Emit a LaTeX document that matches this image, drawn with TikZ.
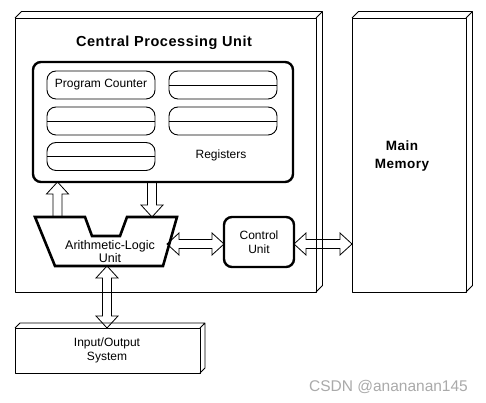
\documentclass[tikz,border=0pt]{standalone}
\usepackage{fontspec}
\setmainfont{Liberation Sans}
\usetikzlibrary{calc}
\tikzset{
  box/.style={draw=drawColor,line width=0.9pt,line join=round,inner sep=0pt,outer sep=0pt},
  regbox/.style={draw=drawColor,line width=2.4pt,rounded corners=8pt,inner sep=0pt,outer sep=0pt},
  cellbox/.style={draw=drawColor,line width=0.9pt,rounded corners=9pt,inner sep=0pt,outer sep=0pt,
    minimum width=108pt,minimum height=28pt},
  lbl/.style={text=drawColor,inner sep=0pt,outer sep=0pt,align=center,font=\fontsize{12}{14}\selectfont},
  ttl/.style={text=drawColor,inner sep=0pt,outer sep=0pt,align=center,
    font=\fontsize{14.5}{18}\selectfont\bfseries\addfontfeature{LetterSpace=4}},
  fatone/.style={to path={
    coordinate (ft) at ($(\tikztotarget)!12pt!(\tikztostart)$)
    ($(\tikztostart)!4.5pt!90:(\tikztotarget)$) -- ($(ft)!4.5pt!90:(\tikztotarget)$)
    -- ($(ft)!11pt!90:(\tikztotarget)$) -- (\tikztotarget)
    -- ($(ft)!11pt!-90:(\tikztotarget)$) -- ($(ft)!4.5pt!-90:(\tikztotarget)$)
    -- ($(\tikztostart)!4.5pt!-90:(\tikztotarget)$) -- cycle}},
  fatboth/.style={to path={
    coordinate (fs) at ($(\tikztostart)!12pt!(\tikztotarget)$)
    coordinate (ft) at ($(\tikztotarget)!12pt!(\tikztostart)$)
    (\tikztostart) -- ($(fs)!11pt!90:(\tikztotarget)$) -- ($(fs)!4.5pt!90:(\tikztotarget)$)
    -- ($(ft)!4.5pt!90:(\tikztotarget)$) -- ($(ft)!11pt!90:(\tikztotarget)$) -- (\tikztotarget)
    -- ($(ft)!11pt!-90:(\tikztotarget)$) -- ($(ft)!4.5pt!-90:(\tikztotarget)$)
    -- ($(fs)!4.5pt!-90:(\tikztotarget)$) -- ($(fs)!11pt!-90:(\tikztotarget)$) -- cycle}}
}
\newcommand\boxdepth[2]{%
  \path[draw=drawColor,line width=0.9pt,line join=round] (#1.north west) -- ++(#2,#2)
    -- ($(#1.north east)+(#2,#2)$) -- ($(#1.south east)+(#2,#2)$) -- (#1.south east)
    (#1.north east) -- ++(#2,#2);}
\begin{document}
\begin{tikzpicture}[x=1pt,y=1pt]
\definecolor{fillColor}{RGB}{255,255,255}
\definecolor{drawColor}{RGB}{0,0,0}
\definecolor{markColor}{RGB}{170,170,170}
\path[use as bounding box,fill=fillColor] (0,0) rectangle (486,403);

\node (cpu) [box,minimum width=301pt,minimum height=274pt] at (165.5,248) {};
\boxdepth{cpu}{6.5}

\node (mm) [box,minimum width=114pt,minimum height=274pt] at (409,248) {};
\boxdepth{mm}{6.5}

\node (io) [box,minimum width=185pt,minimum height=45pt] at (107.5,52.5) {};
\boxdepth{io}{5}

\node (title) [ttl,anchor=base] at (164,356.5) {Central Processing Unit};
\node (mmtext) [ttl,font=\fontsize{13.5}{18}\selectfont\bfseries\addfontfeature{LetterSpace=4}] at (402,247) {Main\\Memory};
\node (iotext) [lbl] at (107,53) {Input/Output\\System};

\node (regs) [regbox,minimum width=260pt,minimum height=120pt] at (163,281) {};
\node (pc) [cellbox,lbl] at (101,318) {Program Counter};
\node (ra) [cellbox] at (223,318) {};
\node (rb) [cellbox] at (101,282) {};
\node (rc) [cellbox] at (223,282) {};
\node (rd) [cellbox] at (101,246.5) {};
\path[draw=drawColor,line width=0.9pt] (ra.west) -- (ra.east);
\path[draw=drawColor,line width=0.9pt] (rb.west) -- (rb.east);
\path[draw=drawColor,line width=0.9pt] (rc.west) -- (rc.east);
\path[draw=drawColor,line width=0.9pt] (rd.west) -- (rd.east);
\node (regtext) [lbl] at (221,248) {Registers};

\path[draw=drawColor,line width=2.6pt,line join=miter] (35,186) -- (85,186) -- (92,167) -- (120,167)
  -- (127,186) -- (177,186) -- (163,137) -- (55,137) -- cycle;
\node (alu) [lbl,font=\fontsize{12.5}{13}\selectfont] at (110,151) {Arithmetic-Logic\\Unit};
\coordinate (aluin) at (57.5,186);
\coordinate (aluout) at (152,186);
\coordinate (alur) at (167,159);
\coordinate (alub) at (107,137);

\node (cu) [regbox,minimum width=70pt,minimum height=50pt] at (259,161) {};
\node (cutext) [lbl] at (259,161) {Control\\Unit};

\path[draw=drawColor,line width=0.8pt,line join=miter] (aluin) to[fatone] (aluin |- regs.south);
\path[draw=drawColor,line width=0.8pt,line join=miter] (regs.south -| aluout) to[fatone] (aluout);
\path[draw=drawColor,line width=0.8pt,line join=miter] (alur) to[fatboth] (alur -| cu.west);
\path[draw=drawColor,line width=0.8pt,line join=miter] (alur -| cu.east) to[fatboth] (alur -| mm.west);
\path[draw=drawColor,line width=0.8pt,line join=miter] (alub) to[fatboth] (alub |- io.north);

\node (mark) [text=markColor,inner sep=0pt,outer sep=0pt,font=\fontsize{15.5}{18}\selectfont] at (388.5,16) {CSDN @anananan145};
\end{tikzpicture}
\end{document}
